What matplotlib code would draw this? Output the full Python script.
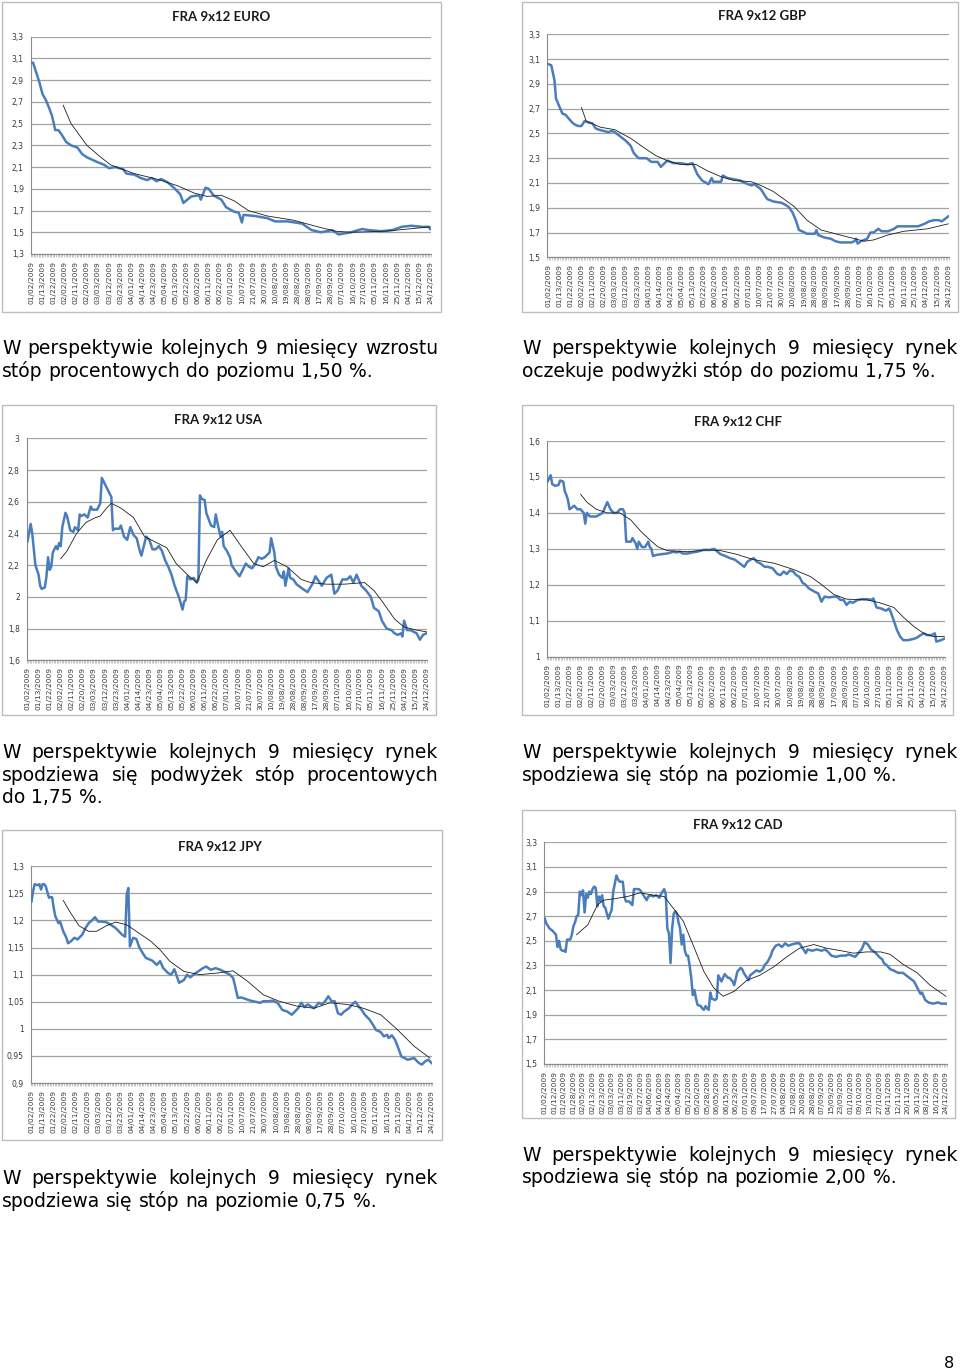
import matplotlib
matplotlib.use("Agg")
import matplotlib.pyplot as plt
from matplotlib.patches import Rectangle
from matplotlib.font_manager import FontProperties
import numpy as np

# date labels on the category axis (one label every 7 trading days, CAD every 6)
std_labels = ["01/02/2009", "01/13/2009", "01/22/2009", "02/02/2009", "02/11/2009", "02/20/2009",
              "03/03/2009", "03/12/2009", "03/23/2009", "04/01/2009", "04/14/2009", "04/23/2009",
              "05/04/2009", "05/13/2009", "05/22/2009", "06/02/2009", "06/11/2009", "06/22/2009",
              "07/01/2009", "10/07/2009", "21/07/2009", "30/07/2009", "10/08/2009", "19/08/2009",
              "28/08/2009", "08/09/2009", "17/09/2009", "28/09/2009", "07/10/2009", "16/10/2009",
              "27/10/2009", "05/11/2009", "16/11/2009", "25/11/2009", "04/12/2009", "15/12/2009",
              "24/12/2009"]
cad_labels = ["01/02/2009", "01/12/2009", "01/20/2009", "01/28/2009", "02/05/2009", "02/13/2009",
              "02/23/2009", "03/03/2009", "03/11/2009", "03/19/2009", "03/27/2009", "04/06/2009",
              "04/16/2009", "04/24/2009", "05/04/2009", "05/12/2009", "05/20/2009", "05/28/2009",
              "06/05/2009", "06/15/2009", "06/23/2009", "07/01/2009", "09/07/2009", "17/07/2009",
              "27/07/2009", "04/08/2009", "12/08/2009", "20/08/2009", "28/08/2009", "07/09/2009",
              "15/09/2009", "23/09/2009", "01/10/2009", "09/10/2009", "19/10/2009", "27/10/2009",
              "04/11/2009", "12/11/2009", "20/11/2009", "30/11/2009", "08/12/2009", "16/12/2009",
              "24/12/2009"]

# (trading day index, rate)
euro = [(0, 3.06), (1, 3.06), (3, 2.97), (5, 2.88), (7, 2.77), (9, 2.72), (11, 2.65), (13, 2.57),
        (15, 2.44), (17, 2.44), (19, 2.40), (22, 2.33), (25, 2.30), (29, 2.28), (32, 2.22),
        (35, 2.19), (38, 2.17), (41, 2.15), (46, 2.12), (49, 2.09), (53, 2.10), (58, 2.08),
        (60, 2.04), (65, 2.03), (69, 2.00), (73, 1.98), (76, 2.00), (79, 1.97), (82, 1.99),
        (86, 1.96), (90, 1.91), (94, 1.85), (96, 1.77), (101, 1.83), (106, 1.84), (107, 1.80),
        (110, 1.91), (112, 1.90), (115, 1.84), (120, 1.80), (123, 1.73), (128, 1.69), (131, 1.68),
        (133, 1.59), (134, 1.66), (141, 1.65), (149, 1.63), (154, 1.60), (162, 1.60), (171, 1.58),
        (177, 1.52), (183, 1.50), (190, 1.52), (194, 1.48), (202, 1.50), (209, 1.53), (213, 1.52),
        (221, 1.51), (228, 1.52), (234, 1.55), (240, 1.56), (247, 1.55), (251, 1.55), (252, 1.53)]
euro_ma = [(20, 2.67), (25, 2.50), (35, 2.30), (43, 2.20), (50, 2.12), (65, 2.04), (79, 1.99),
           (92, 1.93), (103, 1.86), (111, 1.83), (120, 1.84), (128, 1.79), (137, 1.70), (149, 1.65),
           (166, 1.61), (181, 1.55), (192, 1.51), (202, 1.50), (224, 1.51), (252, 1.55)]

gbp = [(0, 3.06), (2, 3.05), (3, 2.99), (4, 2.93), (5, 2.78), (7, 2.72), (9, 2.66), (11, 2.65),
       (13, 2.62), (15, 2.59), (17, 2.57), (19, 2.56), (21, 2.56), (23, 2.60), (25, 2.59), (28, 2.58),
       (30, 2.54), (32, 2.53), (35, 2.52), (38, 2.51), (40, 2.52), (42, 2.51), (45, 2.48), (49, 2.44),
       (52, 2.40), (54, 2.34), (57, 2.30), (62, 2.30), (65, 2.27), (69, 2.27), (71, 2.23), (75, 2.28),
       (79, 2.26), (83, 2.26), (88, 2.25), (91, 2.26), (92, 2.23), (94, 2.17), (97, 2.12), (101, 2.09),
       (103, 2.14), (104, 2.11), (109, 2.11), (110, 2.16), (113, 2.14), (117, 2.13), (121, 2.12),
       (124, 2.10), (128, 2.08), (130, 2.09), (134, 2.05), (138, 1.97), (142, 1.95), (147, 1.94),
       (150, 1.92), (152, 1.90), (154, 1.86), (156, 1.80), (158, 1.72), (160, 1.71), (163, 1.69),
       (168, 1.69), (169, 1.72), (170, 1.68), (174, 1.66), (178, 1.65), (181, 1.63), (184, 1.62),
       (191, 1.62), (193, 1.63), (194, 1.65), (195, 1.61), (197, 1.63), (201, 1.65), (203, 1.70),
       (205, 1.70), (208, 1.73), (210, 1.71), (214, 1.71), (218, 1.73), (220, 1.75), (224, 1.75),
       (229, 1.75), (233, 1.75), (237, 1.77), (240, 1.79), (243, 1.80), (246, 1.80), (248, 1.79),
       (250, 1.81), (252, 1.83)]
gbp_ma = [(21, 2.71), (24, 2.60), (33, 2.55), (42, 2.53), (52, 2.46), (62, 2.37), (68, 2.32),
          (75, 2.28), (83, 2.25), (93, 2.25), (100, 2.20), (109, 2.15), (117, 2.12), (128, 2.11),
          (134, 2.08), (142, 2.03), (155, 1.91), (163, 1.80), (172, 1.72), (184, 1.68), (193, 1.65),
          (199, 1.63), (205, 1.64), (214, 1.68), (224, 1.71), (239, 1.73), (252, 1.77)]

usa = [(0, 2.35), (2, 2.46), (3, 2.40), (4, 2.30), (5, 2.20), (7, 2.14), (8, 2.07), (9, 2.05),
       (11, 2.06), (12, 2.13), (13, 2.25), (14, 2.17), (15, 2.19), (16, 2.28), (18, 2.32), (19, 2.30),
       (20, 2.34), (21, 2.32), (22, 2.44), (24, 2.53), (25, 2.51), (27, 2.42), (29, 2.41), (30, 2.44),
       (32, 2.42), (33, 2.52), (34, 2.51), (36, 2.52), (38, 2.50), (40, 2.57), (41, 2.55), (44, 2.55),
       (46, 2.59), (47, 2.75), (49, 2.71), (50, 2.69), (52, 2.65), (53, 2.63), (54, 2.42), (55, 2.43),
       (58, 2.43), (59, 2.45), (61, 2.38), (63, 2.36), (65, 2.44), (67, 2.39), (69, 2.37), (71, 2.29),
       (72, 2.26), (74, 2.34), (75, 2.38), (77, 2.36), (79, 2.30), (81, 2.30), (83, 2.32), (85, 2.29),
       (87, 2.23), (89, 2.19), (91, 2.14), (93, 2.07), (96, 1.99), (98, 1.92), (99, 1.97), (100, 1.98),
       (101, 2.13), (103, 2.11), (105, 2.12), (107, 2.09), (108, 2.11), (109, 2.64), (110, 2.62),
       (112, 2.61), (113, 2.53), (116, 2.45), (118, 2.44), (119, 2.52), (120, 2.47), (122, 2.38),
       (123, 2.41), (124, 2.32), (126, 2.29), (128, 2.25), (129, 2.20), (131, 2.17), (134, 2.13),
       (136, 2.17), (138, 2.21), (140, 2.19), (142, 2.18), (144, 2.21), (146, 2.25), (148, 2.24),
       (150, 2.25), (153, 2.28), (154, 2.37), (156, 2.28), (157, 2.19), (159, 2.14), (161, 2.12),
       (162, 2.16), (163, 2.07), (165, 2.18), (166, 2.12), (168, 2.11), (170, 2.08), (174, 2.05),
       (177, 2.03), (180, 2.08), (182, 2.13), (184, 2.10), (186, 2.07), (189, 2.12), (192, 2.14),
       (194, 2.02), (196, 2.04), (199, 2.11), (202, 2.11), (204, 2.13), (206, 2.09), (208, 2.14),
       (211, 2.07), (214, 2.04), (217, 2.00), (219, 1.93), (222, 1.91), (224, 1.85), (227, 1.80),
       (230, 1.79), (232, 1.77), (234, 1.76), (236, 1.77), (237, 1.75), (238, 1.85), (240, 1.79),
       (242, 1.79), (244, 1.78), (246, 1.77), (248, 1.73), (250, 1.76), (252, 1.77)]
usa_ma = [(21, 2.24), (25, 2.29), (31, 2.40), (37, 2.47), (43, 2.50), (46, 2.51), (50, 2.56),
          (53, 2.59), (59, 2.56), (67, 2.50), (74, 2.38), (82, 2.34), (88, 2.31), (94, 2.21),
          (101, 2.14), (107, 2.09), (113, 2.23), (120, 2.36), (128, 2.42), (135, 2.32), (143, 2.21),
          (149, 2.19), (156, 2.23), (164, 2.19), (173, 2.11), (179, 2.09), (189, 2.08), (200, 2.08),
          (213, 2.09), (219, 2.04), (225, 1.96), (232, 1.86), (238, 1.81), (246, 1.79), (252, 1.78)]

chf = [(0, 1.487), (2, 1.505), (3, 1.48), (5, 1.475), (7, 1.478), (8, 1.49), (10, 1.487), (11, 1.46),
       (12, 1.45), (13, 1.436), (14, 1.41), (17, 1.42), (19, 1.41), (21, 1.41), (23, 1.40), (24, 1.37),
       (25, 1.40), (27, 1.39), (29, 1.39), (31, 1.39), (35, 1.40), (37, 1.42), (38, 1.43), (40, 1.41),
       (42, 1.40), (44, 1.40), (46, 1.41), (48, 1.41), (49, 1.40), (50, 1.32), (53, 1.32), (54, 1.33),
       (56, 1.315), (57, 1.30), (58, 1.32), (60, 1.305), (62, 1.305), (64, 1.32), (65, 1.305),
       (66, 1.30), (67, 1.28), (69, 1.283), (72, 1.285), (76, 1.287), (80, 1.292), (82, 1.29),
       (84, 1.292), (86, 1.287), (89, 1.287), (92, 1.29), (95, 1.292), (99, 1.297), (103, 1.297),
       (106, 1.30), (108, 1.292), (110, 1.285), (113, 1.28), (116, 1.274), (119, 1.27), (122, 1.26),
       (125, 1.25), (127, 1.264), (129, 1.27), (131, 1.274), (133, 1.264), (135, 1.26), (138, 1.25),
       (140, 1.25), (143, 1.246), (146, 1.23), (148, 1.227), (150, 1.237), (152, 1.23), (154, 1.24),
       (156, 1.237), (158, 1.227), (160, 1.222), (162, 1.206), (164, 1.20), (166, 1.19), (168, 1.185),
       (170, 1.18), (172, 1.176), (174, 1.153), (176, 1.167), (179, 1.165), (182, 1.167), (184, 1.167),
       (186, 1.158), (188, 1.158), (190, 1.144), (192, 1.153), (194, 1.15), (197, 1.158), (200, 1.16),
       (203, 1.16), (206, 1.158), (207, 1.162), (209, 1.137), (212, 1.134), (215, 1.128), (217, 1.134),
       (218, 1.125), (220, 1.10), (222, 1.074), (224, 1.056), (226, 1.046), (229, 1.046), (233, 1.05),
       (235, 1.054), (237, 1.06), (239, 1.065), (241, 1.06), (244, 1.06), (246, 1.065), (247, 1.042),
       (250, 1.046), (252, 1.05)]
chf_ma = [(21, 1.452), (25, 1.43), (31, 1.41), (38, 1.40), (46, 1.40), (53, 1.38), (59, 1.35),
          (65, 1.325), (70, 1.306), (76, 1.295), (89, 1.292), (101, 1.297), (110, 1.295),
          (120, 1.285), (131, 1.27), (144, 1.26), (156, 1.243), (167, 1.223), (173, 1.204),
          (182, 1.173), (190, 1.16), (203, 1.158), (211, 1.15), (220, 1.137), (226, 1.11),
          (233, 1.083), (239, 1.065), (245, 1.056), (252, 1.056)]

jpy = [(0, 1.235), (1, 1.254), (2, 1.267), (4, 1.265), (5, 1.267), (6, 1.257), (7, 1.267), (8, 1.267),
       (9, 1.263), (11, 1.242), (12, 1.243), (13, 1.243), (14, 1.223), (15, 1.208), (17, 1.195),
       (18, 1.198), (20, 1.18), (21, 1.174), (22, 1.168), (23, 1.158), (25, 1.162), (27, 1.168),
       (29, 1.165), (32, 1.174), (34, 1.186), (36, 1.195), (38, 1.20), (40, 1.206), (42, 1.198),
       (44, 1.198), (47, 1.197), (50, 1.192), (53, 1.186), (55, 1.18), (57, 1.174), (59, 1.17),
       (60, 1.248), (61, 1.26), (62, 1.152), (64, 1.168), (66, 1.166), (68, 1.15), (70, 1.14),
       (72, 1.131), (76, 1.126), (79, 1.118), (81, 1.125), (83, 1.112), (86, 1.103), (88, 1.10),
       (90, 1.11), (93, 1.085), (96, 1.09), (98, 1.10), (100, 1.095), (102, 1.10), (105, 1.106),
       (108, 1.112), (110, 1.115), (113, 1.109), (116, 1.112), (119, 1.109), (121, 1.106),
       (123, 1.103), (125, 1.10), (127, 1.094), (128, 1.082), (130, 1.057), (132, 1.058), (134, 1.056),
       (138, 1.052), (141, 1.05), (144, 1.048), (146, 1.051), (149, 1.051), (152, 1.052), (155, 1.048),
       (158, 1.035), (161, 1.032), (164, 1.026), (166, 1.032), (168, 1.038), (170, 1.048), (172, 1.04),
       (174, 1.045), (178, 1.038), (181, 1.048), (183, 1.045), (185, 1.051), (187, 1.06), (189, 1.051),
       (191, 1.051), (193, 1.029), (195, 1.026), (197, 1.032), (200, 1.038), (202, 1.045), (204, 1.05),
       (206, 1.042), (208, 1.035), (210, 1.026), (213, 1.017), (215, 1.008), (217, 0.998), (220, 0.994),
       (222, 0.986), (224, 0.989), (225, 0.983), (227, 0.988), (229, 0.98), (231, 0.965), (233, 0.949),
       (235, 0.946), (237, 0.943), (241, 0.946), (244, 0.937), (246, 0.934), (248, 0.94), (250, 0.943),
       (252, 0.937)]
jpy_ma = [(20, 1.237), (24, 1.217), (30, 1.19), (36, 1.18), (41, 1.18), (47, 1.19), (53, 1.197),
          (60, 1.192), (66, 1.18), (75, 1.162), (81, 1.146), (87, 1.125), (96, 1.106), (106, 1.10),
          (117, 1.103), (127, 1.107), (136, 1.088), (146, 1.063), (156, 1.051), (167, 1.042),
          (178, 1.038), (188, 1.048), (199, 1.045), (209, 1.038), (220, 1.026), (230, 1.0),
          (241, 0.968), (251, 0.946)]

cad = [(0, 2.68), (1, 2.64), (3, 2.60), (5, 2.58), (7, 2.55), (8, 2.45), (9, 2.50), (10, 2.43),
       (11, 2.42), (12, 2.42), (13, 2.41), (14, 2.51), (16, 2.51), (17, 2.55), (18, 2.62), (19, 2.65),
       (20, 2.70), (21, 2.71), (22, 2.90), (23, 2.87), (24, 2.91), (25, 2.73), (26, 2.88), (27, 2.85),
       (28, 2.90), (29, 2.88), (30, 2.92), (31, 2.94), (32, 2.93), (33, 2.78), (34, 2.86), (35, 2.82),
       (36, 2.87), (37, 2.78), (38, 2.77), (39, 2.72), (40, 2.68), (41, 2.72), (42, 2.75), (43, 2.90),
       (45, 3.03), (46, 3.00), (47, 2.98), (49, 2.98), (50, 2.86), (51, 2.82), (53, 2.82), (55, 2.79),
       (56, 2.92), (59, 2.92), (60, 2.91), (62, 2.87), (63, 2.85), (64, 2.83), (65, 2.86), (67, 2.87),
       (68, 2.86), (70, 2.87), (72, 2.85), (73, 2.88), (75, 2.92), (76, 2.88), (77, 2.60), (78, 2.56),
       (79, 2.32), (80, 2.60), (81, 2.72), (82, 2.74), (83, 2.72), (84, 2.65), (85, 2.60), (86, 2.47),
       (87, 2.55), (88, 2.42), (89, 2.38), (90, 2.38), (91, 2.30), (92, 2.20), (93, 2.06), (94, 2.10),
       (95, 2.03), (96, 1.98), (98, 1.97), (99, 1.95), (100, 1.94), (101, 1.97), (102, 1.95),
       (103, 1.94), (104, 2.08), (105, 2.03), (107, 2.02), (108, 2.03), (109, 2.22), (111, 2.17),
       (112, 2.20), (113, 2.23), (115, 2.20), (116, 2.20), (118, 2.17), (119, 2.14), (121, 2.25),
       (123, 2.28), (124, 2.27), (125, 2.24), (127, 2.20), (128, 2.18), (129, 2.22), (131, 2.24),
       (133, 2.26), (135, 2.25), (137, 2.27), (138, 2.30), (140, 2.33), (142, 2.38), (143, 2.42),
       (145, 2.46), (147, 2.47), (149, 2.45), (151, 2.48), (153, 2.46), (155, 2.47), (158, 2.48),
       (160, 2.48), (162, 2.44), (164, 2.40), (165, 2.43), (168, 2.42), (171, 2.43), (174, 2.42),
       (176, 2.43), (178, 2.41), (180, 2.38), (183, 2.37), (186, 2.38), (189, 2.38), (191, 2.39),
       (193, 2.38), (195, 2.37), (197, 2.40), (199, 2.43), (201, 2.49), (203, 2.47), (205, 2.43),
       (208, 2.40), (210, 2.37), (212, 2.35), (213, 2.32), (215, 2.30), (217, 2.27), (219, 2.26),
       (222, 2.24), (225, 2.24), (227, 2.22), (230, 2.19), (232, 2.17), (234, 2.12), (236, 2.07),
       (237, 2.08), (239, 2.02), (241, 2.00), (244, 1.99), (247, 2.00), (249, 1.99), (252, 1.99)]
cad_ma = [(20, 2.55), (27, 2.63), (33, 2.79), (37, 2.83), (43, 2.84), (52, 2.86), (60, 2.89),
          (68, 2.87), (75, 2.86), (81, 2.76), (87, 2.66), (94, 2.44), (100, 2.25), (106, 2.12),
          (112, 2.05), (119, 2.09), (127, 2.18), (135, 2.22), (144, 2.29), (152, 2.37), (160, 2.44),
          (169, 2.47), (177, 2.44), (186, 2.42), (194, 2.40), (202, 2.41), (211, 2.41), (217, 2.39),
          (225, 2.31), (234, 2.24), (242, 2.14), (252, 2.05)]

titles = ["FRA 9x12 EURO", "FRA 9x12 GBP", "FRA 9x12 USA", "FRA 9x12 CHF", "FRA 9x12 JPY", "FRA 9x12 CAD"]

paragraphs = [
    ["W perspektywie kolejnych 9 miesięcy wzrostu", "stóp procentowych do poziomu 1,50 %."],
    ["W perspektywie kolejnych 9 miesięcy rynek", "oczekuje podwyżki stóp do poziomu 1,75 %."],
    ["W perspektywie kolejnych 9 miesięcy rynek", "spodziewa się podwyżek stóp procentowych", "do 1,75 %."],
    ["W perspektywie kolejnych 9 miesięcy rynek", "spodziewa się stóp na poziomie 1,00 %."],
    ["W perspektywie kolejnych 9 miesięcy rynek", "spodziewa się stóp na poziomie 0,75 %."],
    ["W perspektywie kolejnych 9 miesięcy rynek", "spodziewa się stóp na poziomie 2,00 %."],
]

W, H = 960, 1369
fig = plt.figure(figsize=(W / 100, H / 100), dpi=100)
fig.patch.set_facecolor("white")


def fx(x):
    return x / W


def fy(y):
    return 1 - y / H


# layout in page pixels: frame box, plot box, title centre, y range/step
layout = [
    dict(frame=(2, 2, 441, 312), plot=(30.7, 36.7, 431, 254), title=(221, 17), y=(1.3, 3.3, 0.2)),
    dict(frame=(522, 2, 958, 312), plot=(547.3, 34.3, 949, 257.3), title=(762, 16), y=(1.5, 3.3, 0.2)),
    dict(frame=(2, 405, 436, 715), plot=(26.7, 438.3, 427, 660.3), title=(218, 420), y=(1.6, 3.0, 0.2)),
    dict(frame=(522, 405, 953, 715), plot=(546.7, 441, 945, 656.7), title=(738, 422), y=(1.0, 1.6, 0.1)),
    dict(frame=(2, 830, 442, 1140), plot=(30.7, 866.3, 432.3, 1083), title=(220, 847), y=(0.9, 1.3, 0.05)),
    dict(frame=(522, 810, 955, 1118), plot=(544, 842.3, 946.7, 1064), title=(738, 825), y=(1.5, 3.3, 0.2)),
]
series = [(euro, euro_ma, std_labels, 7), (gbp, gbp_ma, std_labels, 7), (usa, usa_ma, std_labels, 7),
          (chf, chf_ma, std_labels, 7), (jpy, jpy_ma, std_labels, 7), (cad, cad_ma, cad_labels, 6)]

for (pts, ma, labels, step), lay, title in zip(series, layout, titles):
    x0, y0, x1, y1 = lay["frame"]
    fig.add_artist(Rectangle((fx(x0), fy(y1)), (x1 - x0) / W, (y1 - y0) / H,
                             transform=fig.transFigure, fill=False, ec="#bdbdbd", lw=1.0))
    fig.text(fx(lay["title"][0]), fy(lay["title"][1]), title, ha="center", va="center",
             fontsize=9.5, fontweight="bold", family=["Lato", "DejaVu Sans"], color="#1a1a1a")

    l, t, r, b = lay["plot"]
    ax = fig.add_axes([fx(l), fy(b), (r - l) / W, (b - t) / H])
    bx, by = zip(*pts)
    ax.plot(bx, by, color="#4a7dbb", lw=1.8, solid_joinstyle="round", zorder=3)
    mx, my = zip(*ma)
    ax.plot(mx, my, color="#1e1e1e", lw=0.6, zorder=4)

    ylo, yhi, ystep = lay["y"]
    ax.set_xlim(-0.5, 252.5)
    ax.set_ylim(ylo, yhi)
    yt = np.round(np.arange(ylo, yhi + ystep / 2, ystep), 3)
    ax.set_yticks(yt)
    ax.set_yticklabels([f"{v:g}".replace(".", ",") for v in yt])
    ax.yaxis.grid(True, color="#a3a3a3", lw=0.9)
    ax.set_axisbelow(True)
    ax.set_xticks(np.arange(len(labels)) * step)
    ax.set_xticklabels(labels, rotation=90)
    ax.set_xticks(np.arange(-0.5, 253, 1), minor=True)
    ax.tick_params(axis="x", which="major", length=0, pad=5, labelsize=5.3, labelcolor="#3a3a3a")
    ax.tick_params(axis="x", which="minor", length=2.2, width=0.4, color="#9a9a9a", direction="out")
    ax.tick_params(axis="y", length=0, pad=5, labelsize=5.5, labelcolor="#3a3a3a")
    for side in ("top", "right"):
        ax.spines[side].set_visible(False)
    for side in ("left", "bottom"):
        ax.spines[side].set_color("#8a8a8a")
        ax.spines[side].set_linewidth(0.8)
    ax.set_facecolor("none")

# body text, justified like the page
fp = FontProperties(family="DejaVu Sans", size=13.5)
renderer = fig.canvas.get_renderer()


def word_width(s):
    return renderer.get_text_width_height_descent(s, fp, ismath=False)[0]


space_w = word_width("a a") - word_width("aa")
text_blocks = [(2, 438, [354, 377]), (522, 958, [354, 377]), (2, 438, [758, 781, 803]),
               (522, 958, [758, 781]), (2, 438, [1184, 1207]), (522, 958, [1161, 1183])]

for para, (xl, xr, bases) in zip(paragraphs, text_blocks):
    for k, (line, yb) in enumerate(zip(para, bases)):
        words = line.split(" ")
        widths = [word_width(w) for w in words]
        last = k == len(para) - 1
        gap = space_w if last else (xr - xl - sum(widths)) / (len(words) - 1)
        x = xl
        for w, wd in zip(words, widths):
            fig.text(fx(x), fy(yb), w, ha="left", va="baseline", fontproperties=fp, color="black")
            x += wd + gap

fig.text(fx(954), fy(1368), "8", ha="right", va="baseline", fontsize=11.5, family="DejaVu Sans")

fig.savefig("out.png", dpi=100, facecolor="white")
